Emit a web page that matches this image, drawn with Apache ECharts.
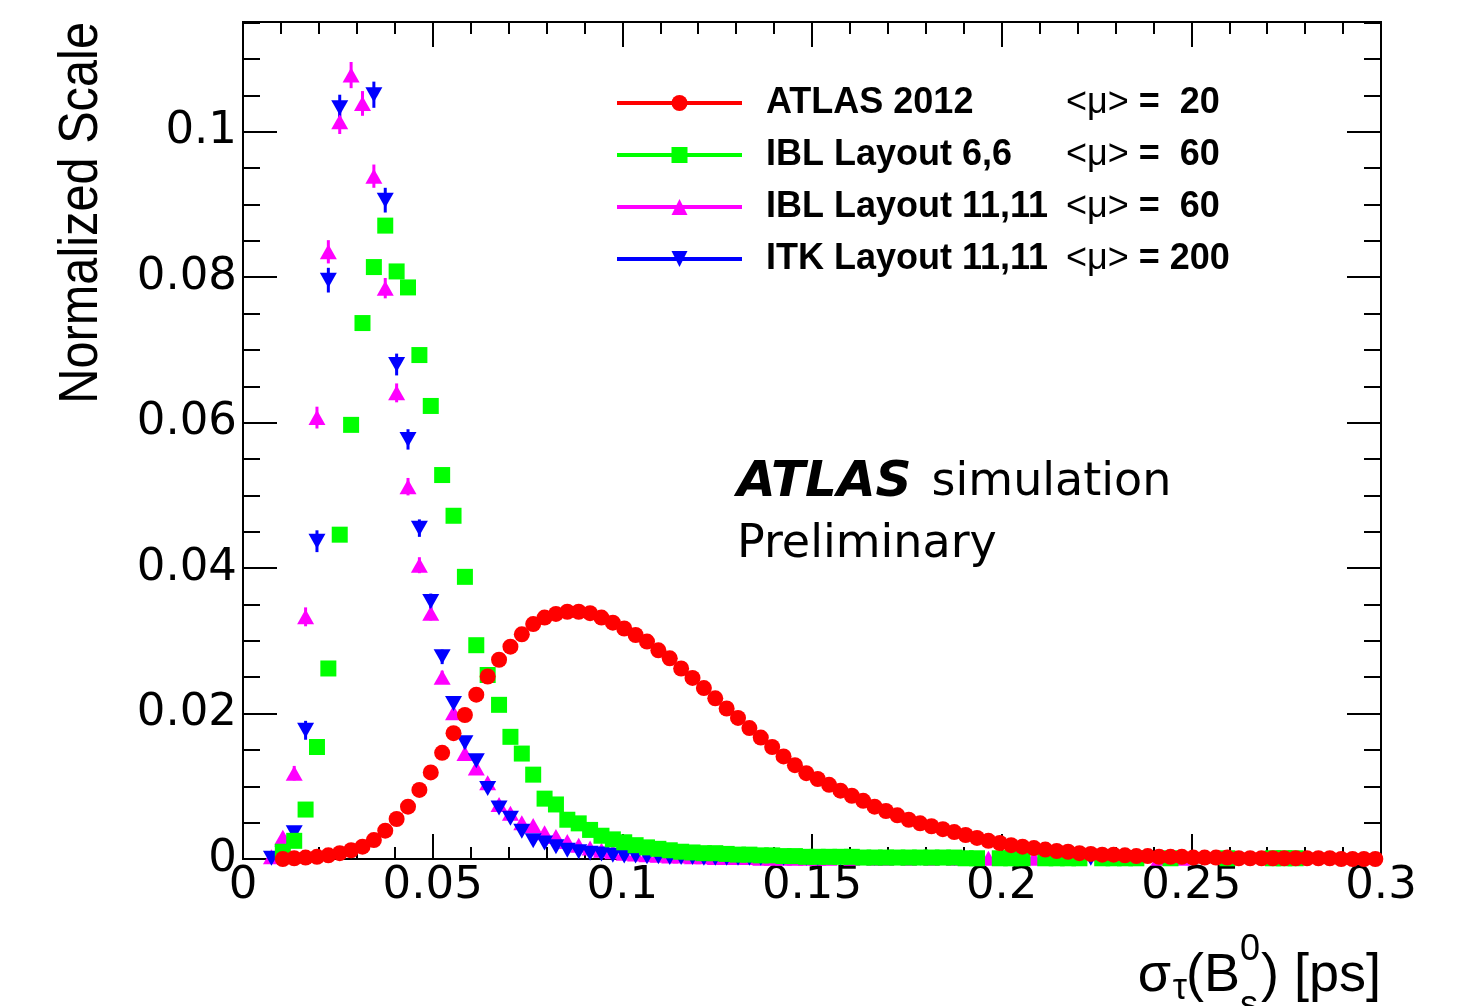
<!DOCTYPE html>
<html>
<head>
<meta charset="utf-8">
<title>sigma tau Bs</title>
<script src="https://cdn.jsdelivr.net/npm/echarts@6/dist/echarts.min.js"></script>
<style>
  html, body { margin: 0; padding: 0; background: #fff; }
  #chart { width: 1458px; height: 1006px; }
</style>
</head>
<body>
<div id="chart"></div>
<script>
// histogram bin centres, 100 bins of 0.003 ps
const binCenters = [
  0.0015, 0.0045, 0.0075, 0.0105, 0.0135, 0.0165, 0.0195, 0.0225, 0.0255, 0.0285,
  0.0315, 0.0345, 0.0375, 0.0405, 0.0435, 0.0465, 0.0495, 0.0525, 0.0555, 0.0585,
  0.0615, 0.0645, 0.0675, 0.0705, 0.0735, 0.0765, 0.0795, 0.0825, 0.0855, 0.0885,
  0.0915, 0.0945, 0.0975, 0.1005, 0.1035, 0.1065, 0.1095, 0.1125, 0.1155, 0.1185,
  0.1215, 0.1245, 0.1275, 0.1305, 0.1335, 0.1365, 0.1395, 0.1425, 0.1455, 0.1485,
  0.1515, 0.1545, 0.1575, 0.1605, 0.1635, 0.1665, 0.1695, 0.1725, 0.1755, 0.1785,
  0.1815, 0.1845, 0.1875, 0.1905, 0.1935, 0.1965, 0.1995, 0.2025, 0.2055, 0.2085,
  0.2115, 0.2145, 0.2175, 0.2205, 0.2235, 0.2265, 0.2295, 0.2325, 0.2355, 0.2385,
  0.2415, 0.2445, 0.2475, 0.2505, 0.2535, 0.2565, 0.2595, 0.2625, 0.2655, 0.2685,
  0.2715, 0.2745, 0.2775, 0.2805, 0.2835, 0.2865, 0.2895, 0.2925, 0.2955, 0.2985
];

// ATLAS 2012, <mu> = 20
const atlas2012 = [
  null, null, null, 0.0000, 0.0001, 0.0002, 0.0003, 0.0005, 0.0008, 0.0012,
  0.0017, 0.0026, 0.0039, 0.0055, 0.0072, 0.0095, 0.0119, 0.0146, 0.0173, 0.0198,
  0.0226, 0.0251, 0.0274, 0.0292, 0.0309, 0.0323, 0.0332, 0.0337, 0.0340, 0.0340,
  0.0338, 0.0332, 0.0325, 0.0317, 0.0308, 0.0299, 0.0287, 0.0276, 0.0262, 0.0249,
  0.0235, 0.0221, 0.0207, 0.0194, 0.0180, 0.0167, 0.0154, 0.0141, 0.0129, 0.0118,
  0.0110, 0.0102, 0.0094, 0.0087, 0.0080, 0.0072, 0.0066, 0.0060, 0.0054, 0.0049,
  0.0045, 0.0041, 0.0037, 0.0033, 0.0029, 0.0025, 0.0022, 0.0019, 0.0017, 0.0015,
  0.0013, 0.0011, 0.0010, 0.0008, 0.0007, 0.0006, 0.0006, 0.0005, 0.0004, 0.0004,
  0.0003, 0.0003, 0.0003, 0.0002, 0.0002, 0.0002, 0.0002, 0.0001, 0.0001, 0.0001,
  0.0001, 0.0001, 0.0001, 0.0001, 0.0001, 0.0001, 0.0000, 0.0000, 0.0000, 0.0000
];

// IBL Layout 6,6, <mu> = 60
const ibl66 = [
  null, null, null, 0.0010, 0.0025, 0.0068, 0.0154, 0.0262, 0.0446, 0.0597,
  0.0737, 0.0814, 0.0871, 0.0808, 0.0786, 0.0693, 0.0623, 0.0528, 0.0472, 0.0388,
  0.0294, 0.0253, 0.0212, 0.0168, 0.0145, 0.0116, 0.0083, 0.0075, 0.0054, 0.0049,
  0.0040, 0.0032, 0.0027, 0.0023, 0.0019, 0.0016, 0.0014, 0.0012, 0.0010, 0.0009,
  0.0008, 0.0008, 0.0007, 0.0006, 0.0006, 0.0005, 0.0005, 0.0004, 0.0004, 0.0003,
  0.0003, 0.0003, 0.0003, 0.0003, 0.0002, 0.0002, 0.0002, 0.0002, 0.0002, 0.0002,
  0.0002, 0.0002, 0.0002, 0.0001, 0.0001, null, 0.0001, 0.0001, 0.0001, null,
  0.0001, 0.0001, 0.0001, 0.0001, null, 0.0001, 0.0001, 0.0001, 0.0001, null,
  null, 0.0001, null, null, null, null, 0.0001, null, null, null,
  0.0001, 0.0001, 0.0001, null, null, null, null, null, null, null
];

// IBL Layout 11,11, <mu> = 60
const ibl1111 = [
  null, null, 0.0003, 0.0030, 0.0118, 0.0333, 0.0607, 0.0835, 0.1014, 0.1078,
  0.1039, 0.0939, 0.0785, 0.0641, 0.0512, 0.0404, 0.0338, 0.0250, 0.0201, 0.0145,
  0.0125, 0.0105, 0.0075, 0.0063, 0.0050, 0.0046, 0.0036, 0.0031, 0.0024, 0.0019,
  0.0015, 0.0012, 0.0010, 0.0008, 0.0007, 0.0006, 0.0005, 0.0004, 0.0004, 0.0003,
  0.0003, 0.0002, 0.0002, 0.0002, 0.0002, 0.0001, 0.0001, 0.0001, 0.0001, 0.0001,
  0.0001, 0.0001, null, 0.0001, null, 0.0001, 0.0001, null, 0.0001, null,
  0.0001, null, 0.0001, null, null, 0.0001, null, null, null, 0.0001,
  null, 0.0001, null, null, null, null, 0.0001, null, null, null,
  0.0001, null, 0.0001, null, null, null, null, null, null, null,
  null, null, null, null, null, null, null, null, null, null
];
const ibl1111Err = [
  null, null, 0.0002, 0.0006, 0.0010, 0.0013, 0.0015, 0.0016, 0.0017, 0.0018,
  0.0017, 0.0016, 0.0014, 0.0013, 0.0012, 0.0011, 0.0010, 0.0009, 0.0008, 0.0007
];

// ITK Layout 11,11, <mu> = 200 (two peak bins run above the frame)
const itk1111 = [
  null, null, 0.0001, 0.0008, 0.0036, 0.0177, 0.0437, 0.0796, 0.1033, 0.1190,
  0.1170, 0.1051, 0.0906, 0.0680, 0.0577, 0.0455, 0.0354, 0.0278, 0.0214, 0.0160,
  0.0135, 0.0097, 0.0070, 0.0056, 0.0038, 0.0025, 0.0022, 0.0017, 0.0012, 0.0010,
  0.0008, 0.0007, 0.0005, 0.0004, 0.0004, 0.0003, 0.0003, 0.0002, 0.0002, 0.0002,
  0.0001, 0.0001, 0.0001, 0.0001, 0.0001, 0.0001, null, 0.0001, null, 0.0001,
  0.0001, null, 0.0001, null, null, 0.0001, null, null, null, 0.0001,
  null, null, 0.0001, null, null, null, null, null, null, null,
  null, null, null, null, 0.0001, null, null, null, null, null,
  null, null, null, null, null, null, null, null, null, null,
  null, null, null, null, null, null, null, null, null, null
];
const itk1111Err = [
  null, null, 0.0002, 0.0005, 0.0009, 0.0013, 0.0015, 0.0017, 0.0018, null,
  null, 0.0018, 0.0017, 0.0015, 0.0014, 0.0012, 0.0011, 0.0010, 0.0009, 0.0008
];

const legendNames = ['ATLAS 2012', 'IBL Layout 6,6', 'IBL Layout 11,11', 'ITK Layout 11,11'];
const legendPileup = ['=  20', '=  60', '=  60', '= 200'];

const xTickValues = [0, 0.05, 0.1, 0.15, 0.2, 0.25, 0.3];
const xTickLabels = ['0', '0.05', '0.1', '0.15', '0.2', '0.25', '0.3'];
const yTickValues = [0, 0.02, 0.04, 0.06, 0.08, 0.1];
const yTickLabels = ['0', '0.02', '0.04', '0.06', '0.08', '0.1'];

const X_MAX = 0.3;
const Y_MAX = 0.1151;

function tickLabel (values, labels) {
  return function (v) {
    for (let i = 0; i < values.length; i++) {
      if (Math.abs(v - values[i]) < 1e-7) return labels[i];
    }
    return '';
  };
}

function points (vals) {
  return binCenters.map((x, i) => [x, vals[i] == null ? '-' : vals[i]]);
}

function hist (name, vals, color, symbol, size, rotate) {
  return {
    name: name,
    type: 'line',
    data: points(vals),
    symbol: symbol,
    symbolSize: size,
    symbolRotate: rotate || 0,
    showSymbol: true,
    showAllSymbol: true,
    clip: true,
    color: color,
    itemStyle: { color: color },
    lineStyle: { color: color, opacity: 0 },
    emphasis: { disabled: true },
    silent: true
  };
}

// vertical error bars, only where an error was read
function errorBars (name, vals, errs, color) {
  const data = [];
  errs.forEach((e, i) => {
    if (e != null && vals[i] != null) data.push([binCenters[i], vals[i], e]);
  });
  return {
    name: name,
    type: 'custom',
    silent: true,
    data: data,
    renderItem: function (params, api) {
      const lo = api.coord([api.value(0), api.value(1) - api.value(2)]);
      const hi = api.coord([api.value(0), api.value(1) + api.value(2)]);
      return {
        type: 'line',
        shape: { x1: lo[0], y1: lo[1], x2: hi[0], y2: hi[1] },
        style: { stroke: color, lineWidth: 3 }
      };
    }
  };
}

const labelFont = 'DejaVu Sans';

function xAxisDef (pos, interval, tickLen, labels) {
  return {
    type: 'value', position: pos, min: 0, max: X_MAX, interval: interval,
    axisLine: { show: true, onZero: false, lineStyle: { color: '#000', width: 2 } },
    axisTick: { show: true, inside: true, length: tickLen, lineStyle: { color: '#000', width: 2 } },
    splitLine: { show: false },
    axisLabel: labels ? {
      show: true, margin: 5, interval: 0, showMinLabel: true, showMaxLabel: true,
      color: '#000', fontFamily: labelFont, fontSize: 45,
      formatter: tickLabel(xTickValues, xTickLabels)
    } : { show: false }
  };
}

function yAxisDef (pos, interval, tickLen, labels) {
  return {
    type: 'value', position: pos, min: 0, max: Y_MAX, interval: interval,
    axisLine: { show: true, onZero: false, lineStyle: { color: '#000', width: 2 } },
    axisTick: { show: true, inside: true, length: tickLen, lineStyle: { color: '#000', width: 2 } },
    splitLine: { show: false },
    axisLabel: labels ? {
      show: true, margin: 6, showMinLabel: true, showMaxLabel: true,
      color: '#000', fontFamily: labelFont, fontSize: 45,
      formatter: tickLabel(yTickValues, yTickLabels)
    } : { show: false }
  };
}

const chart = echarts.init(document.getElementById('chart'), null, { renderer: 'canvas' });

const legendRich = {
  n: { fontFamily: 'Liberation Sans', fontWeight: 'bold', fontSize: 36, color: '#000', width: 300, padding: [0, 0, 0, 19] },
  m: { fontFamily: 'Liberation Sans', fontWeight: 'normal', fontSize: 36, color: '#000' },
  v: { fontFamily: 'Liberation Sans', fontWeight: 'bold', fontSize: 36, color: '#000' }
};

const titleFont = '"Liberation Sans"';

chart.setOption({
  animation: false,
  backgroundColor: '#fff',
  grid: { left: 243, right: 77, top: 22, bottom: 147, containLabel: false },
  xAxis: [
    xAxisDef('bottom', 0.05, 25, true),
    xAxisDef('bottom', 0.01, 12, false),
    xAxisDef('top', 0.05, 25, false),
    xAxisDef('top', 0.01, 12, false)
  ],
  yAxis: [
    yAxisDef('left', 0.02, 34, true),
    yAxisDef('left', 0.005, 17, false),
    yAxisDef('right', 0.02, 34, false),
    yAxisDef('right', 0.005, 17, false)
  ],
  legend: {
    orient: 'vertical',
    left: 615,
    top: 85,
    padding: 0,
    itemWidth: 125,
    itemHeight: 20,
    itemGap: 16,
    selectedMode: false,
    data: legendNames,
    lineStyle: { width: 4, opacity: 1 },
    formatter: function (name) {
      const i = legendNames.indexOf(name);
      return '{n|' + name + '}{m|<μ>}{v| ' + legendPileup[i] + '}';
    },
    textStyle: { rich: legendRich }
  },
  // drawn back to front: magenta, blue, green, red on top
  series: [
    errorBars('err 11,11', ibl1111, ibl1111Err, '#ff00ff'),
    hist('IBL Layout 11,11', ibl1111, '#ff00ff', 'triangle', [17, 15], 0),
    errorBars('err ITK', itk1111, itk1111Err, '#0000ff'),
    hist('ITK Layout 11,11', itk1111, '#0000ff', 'triangle', [17, 15], 180),
    hist('IBL Layout 6,6', ibl66, '#00ff00', 'rect', 16, 0),
    hist('ATLAS 2012', atlas2012, '#ff0000', 'circle', 16, 0)
  ],
  graphic: [
    {
      type: 'text', left: 737, top: 458,
      style: {
        text: '{a|ATLAS}{b|simulation}',
        rich: {
          a: { fontFamily: 'DejaVu Sans', fontWeight: 'bold', fontStyle: 'italic', fontSize: 50, fill: '#000' },
          b: { fontFamily: 'DejaVu Sans', fontSize: 46, fill: '#000', padding: [0, 0, 0, 20] }
        }
      }
    },
    {
      type: 'text', left: 737, top: 522,
      style: { text: 'Preliminary', font: '46px "DejaVu Sans"', fill: '#000' }
    },
    {
      type: 'text', x: 82, y: 22, rotation: Math.PI / 2, scaleX: 0.87,
      style: { text: 'Normalized Scale', font: '56px ' + titleFont, fill: '#000', align: 'right', verticalAlign: 'middle' }
    },
    // x axis title, laid out right to left from the frame edge
    { type: 'text', x: 1381, y: 976, style: { text: ') [ps]', font: '54px ' + titleFont, fill: '#000', align: 'right', verticalAlign: 'middle' } },
    { type: 'text', x: 1260, y: 950, style: { text: '0', font: '36px ' + titleFont, fill: '#000', align: 'right', verticalAlign: 'middle' } },
    { type: 'text', x: 1258, y: 1006, style: { text: 's', font: '36px ' + titleFont, fill: '#000', align: 'right', verticalAlign: 'middle' } },
    { type: 'text', x: 1240, y: 976, style: { text: '(B', font: '54px ' + titleFont, fill: '#000', align: 'right', verticalAlign: 'middle' } },
    { type: 'text', x: 1187, y: 989, style: { text: 'τ', font: '36px ' + titleFont, fill: '#000', align: 'right', verticalAlign: 'middle' } },
    { type: 'text', x: 1171, y: 976, style: { text: 'σ', font: '54px ' + titleFont, fill: '#000', align: 'right', verticalAlign: 'middle' } }
  ]
});
</script>
</body>
</html>
